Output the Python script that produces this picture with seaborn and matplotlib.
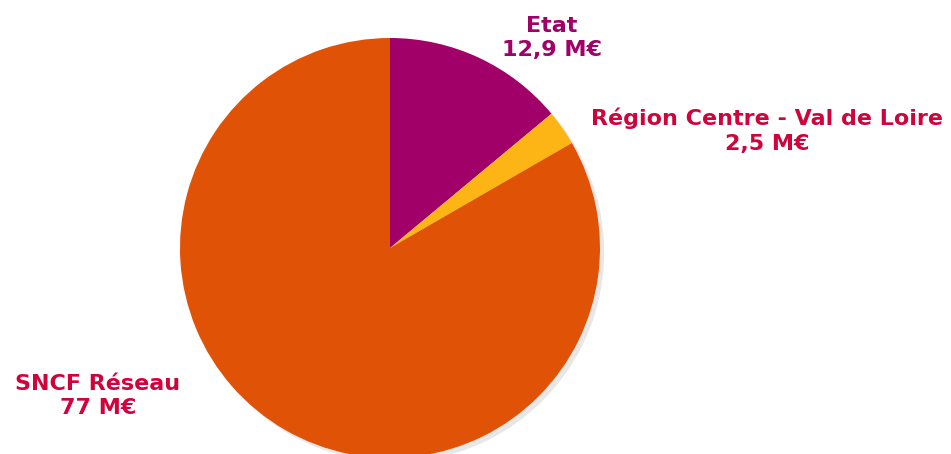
import matplotlib
matplotlib.use("Agg")
import matplotlib.pyplot as plt
import seaborn as sns

# Données du financement (M€)
financeurs = ["Etat", "Région Centre - Val de Loire", "SNCF Réseau"]
montants = [12.9, 2.5, 77]
couleurs = ["#A00068", "#FDB515", "#E05206"]
couleurs_texte = ["#A00068", "#D0043C", "#D0043C"]

sns.set_theme(style="white")
plt.rcParams['font.family'] = ['DejaVu Sans']

fig = plt.figure(figsize=(9.51, 4.54), dpi=100)
ax = fig.add_axes([0, 0, 1, 1])

ax.pie(montants, colors=couleurs, startangle=90, counterclock=False,
       center=(390, 206), radius=210,
       wedgeprops={"linewidth": 0},
       shadow={"ox": 3, "oy": -3, "facecolor": "#bbbbbb", "edgecolor": "none", "alpha": 0.35})
ax.set_xlim(0, 951)
ax.set_ylim(0, 454)
ax.axis("off")

# Positions des étiquettes (en pixels)
pos_labels = [(552, 416), (767, 323), (98, 58)]
for nom, val, c, (x, y) in zip(financeurs, montants, couleurs_texte, pos_labels):
    txt = f"{val:g}".replace(".", ",") + " M€"
    ax.text(x, y, f"{nom}\n{txt}", ha="center", va="center", color=c,
            fontsize=16, fontweight="bold", linespacing=1.3)

plt.savefig("out.png", dpi=100)
